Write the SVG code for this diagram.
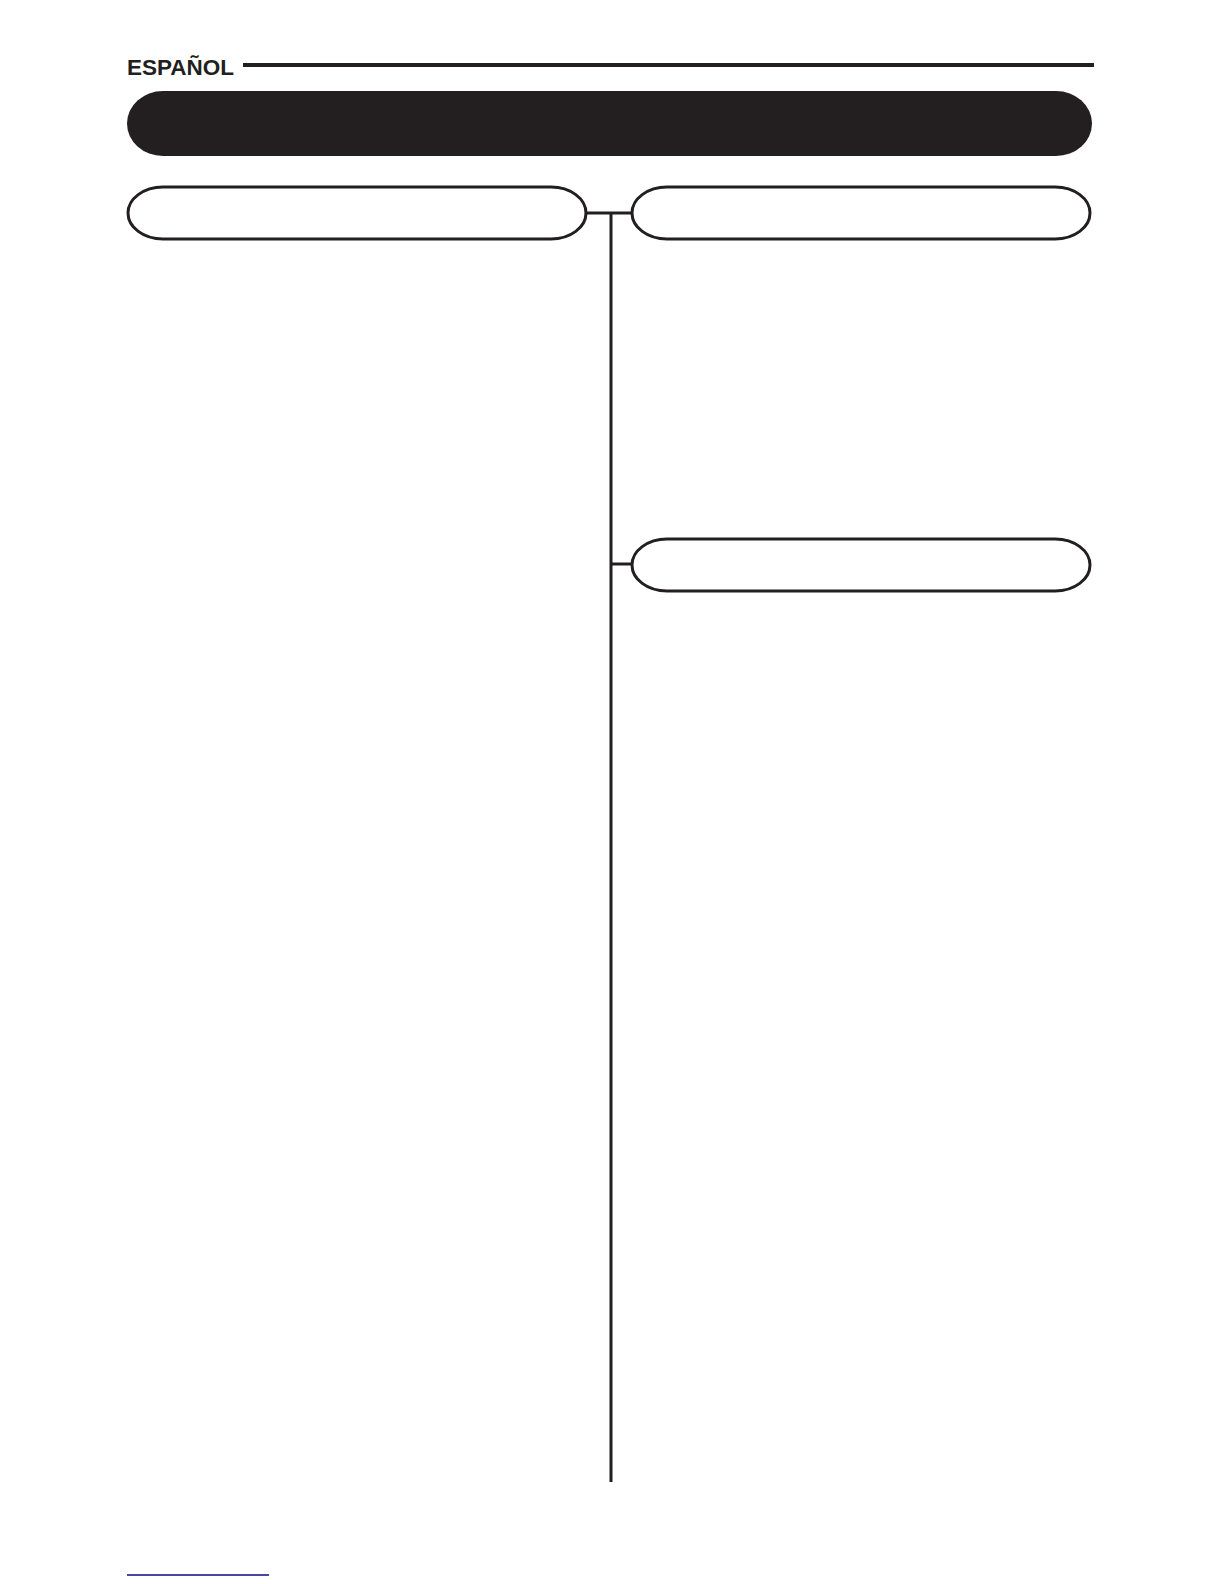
<svg xmlns="http://www.w3.org/2000/svg" width="1224" height="1584" viewBox="0 0 1224 1584">
<style>
.box{fill:#fff;stroke:#231f20;stroke-width:3}
.conn{stroke:#231f20;stroke-width:3;fill:none}
</style>
<rect width="1224" height="1584" fill="#fff"/>
<g id="header">
<text x="127" y="74.5" font-family="Liberation Sans, Arial, sans-serif" font-weight="bold" font-size="22.5" fill="#231f20">ESPAÑOL</text>
<line x1="243" y1="65" x2="1094" y2="65" stroke="#231f20" stroke-width="4"/>
</g>
<g id="title-bar">
<rect x="127" y="91" width="965" height="65" rx="36" ry="32.5" fill="#231f20"/>
</g>
<g id="connectors">
<line class="conn" x1="586" y1="213" x2="632" y2="213"/>
<line class="conn" x1="611" y1="213" x2="611" y2="1482"/>
<line class="conn" x1="611" y1="564" x2="632" y2="564"/>
</g>
<g id="box-left">
<rect class="box" x="128" y="187" width="458" height="52" rx="35" ry="26"/>
</g>
<g id="box-right-top">
<rect class="box" x="632" y="187" width="458" height="52" rx="35" ry="26"/>
</g>
<g id="box-right-bottom">
<rect class="box" x="632" y="539" width="458" height="52" rx="35" ry="26"/>
</g>
<g id="footer">
<line x1="127" y1="1575" x2="269" y2="1575" stroke="#0a0a80" stroke-width="1.6"/>
</g>
</svg>
